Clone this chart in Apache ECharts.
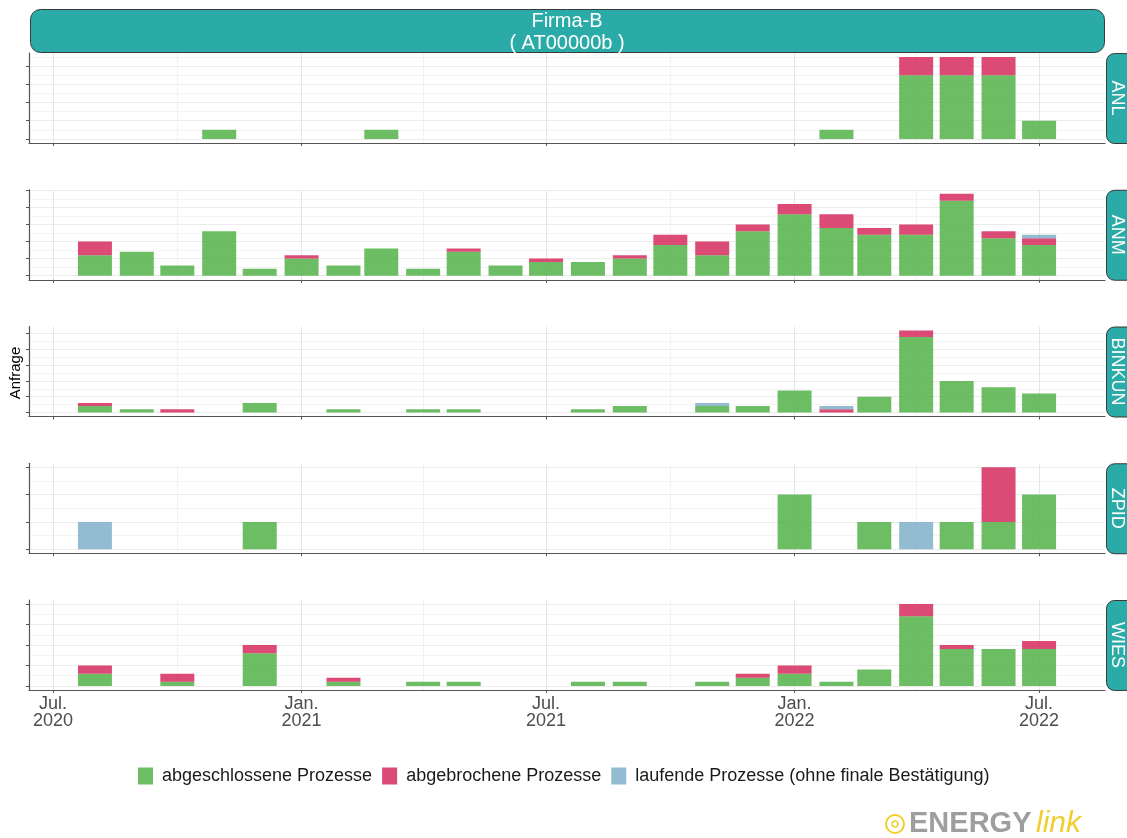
<!doctype html>
<html>
<head>
<meta charset="utf-8">
<title>Firma-B</title>
<script src="https://cdn.jsdelivr.net/npm/echarts@6/dist/echarts.min.js"></script>
</head>
<body style="margin:0;background:#fff">
<div id="chart" style="width:1127px;height:838px;"></div>
<script>
// Monate (Balken jeweils am Monatsersten)
var months = ['2020-08-01', '2020-09-01', '2020-10-01', '2020-11-01', '2020-12-01',
    '2021-01-01', '2021-02-01', '2021-03-01', '2021-04-01', '2021-05-01', '2021-06-01',
    '2021-07-01', '2021-08-01', '2021-09-01', '2021-10-01', '2021-11-01', '2021-12-01',
    '2022-01-01', '2022-02-01', '2022-03-01', '2022-04-01', '2022-05-01', '2022-06-01',
    '2022-07-01'];
var panels = ['ANL', 'ANM', 'BINKUN', 'ZPID', 'WIES'];
var seriesNames = ['abgeschlossene Prozesse', 'abgebrochene Prozesse', 'laufende Prozesse (ohne finale Bestätigung)'];
var tickDates = ['2020-07-01', '2021-01-01', '2021-07-01', '2022-01-01', '2022-07-01'];
var tickLabels = ['Jul.\n2020', 'Jan.\n2021', 'Jul.\n2021', 'Jan.\n2022', 'Jul.\n2022'];
var minorDates = ['2020-10-01', '2021-04-01', '2021-10-01', '2022-04-01'];
var yStep = [2, 5, 5, 1, 5];

// Werte je Panel: abgeschlossen / abgebrochen / laufend
var anlDone = [0, 0, 0, 1, 0, 0, 0, 1, 0, 0, 0, 0, 0, 0, 0, 0, 0, 0, 1, 0, 7, 7, 7, 2];
var anlAbort = [0, 0, 0, 0, 0, 0, 0, 0, 0, 0, 0, 0, 0, 0, 0, 0, 0, 0, 0, 0, 2, 2, 2, 0];
var anlRun = [0, 0, 0, 0, 0, 0, 0, 0, 0, 0, 0, 0, 0, 0, 0, 0, 0, 0, 0, 0, 0, 0, 0, 0];

var anmDone = [6, 7, 3, 13, 2, 5, 3, 8, 2, 7, 3, 4, 4, 5, 9, 6, 13, 18, 14, 12, 12, 22, 11, 9];
var anmAbort = [4, 0, 0, 0, 0, 1, 0, 0, 0, 1, 0, 1, 0, 1, 3, 4, 2, 3, 4, 2, 3, 2, 2, 2];
var anmRun = [0, 0, 0, 0, 0, 0, 0, 0, 0, 0, 0, 0, 0, 0, 0, 0, 0, 0, 0, 0, 0, 0, 0, 1];

var binDone = [2, 1, 0, 0, 3, 0, 1, 0, 1, 1, 0, 0, 1, 2, 0, 2, 2, 7, 0, 5, 24, 10, 8, 6];
var binAbort = [1, 0, 1, 0, 0, 0, 0, 0, 0, 0, 0, 0, 0, 0, 0, 0, 0, 0, 1, 0, 2, 0, 0, 0];
var binRun = [0, 0, 0, 0, 0, 0, 0, 0, 0, 0, 0, 0, 0, 0, 0, 1, 0, 0, 1, 0, 0, 0, 0, 0];

var zpidDone = [0, 0, 0, 0, 1, 0, 0, 0, 0, 0, 0, 0, 0, 0, 0, 0, 0, 2, 0, 1, 0, 1, 1, 2];
var zpidAbort = [0, 0, 0, 0, 0, 0, 0, 0, 0, 0, 0, 0, 0, 0, 0, 0, 0, 0, 0, 0, 0, 0, 2, 0];
var zpidRun = [1, 0, 0, 0, 0, 0, 0, 0, 0, 0, 0, 0, 0, 0, 0, 0, 0, 0, 0, 0, 1, 0, 0, 0];

var wiesDone = [3, 0, 1, 0, 8, 0, 1, 0, 1, 1, 0, 0, 1, 1, 0, 1, 2, 3, 1, 4, 17, 9, 9, 9];
var wiesAbort = [2, 0, 2, 0, 2, 0, 1, 0, 0, 0, 0, 0, 0, 0, 0, 0, 1, 2, 0, 0, 3, 1, 0, 2];
var wiesRun = [0, 0, 0, 0, 0, 0, 0, 0, 0, 0, 0, 0, 0, 0, 0, 0, 0, 0, 0, 0, 0, 0, 0, 0];

var panelData = [
    [anlDone, anlAbort, anlRun],
    [anmDone, anmAbort, anmRun],
    [binDone, binAbort, binRun],
    [zpidDone, zpidAbort, zpidRun],
    [wiesDone, wiesAbort, wiesRun]
];
var colors = ['rgba(82,178,73,0.85)', 'rgba(214,42,94,0.85)', 'rgba(128,176,203,0.85)'];

var FONT = '"Liberation Sans", Arial, sans-serif';
var DAY = 86400000;
function ts(s) {
    var p = s.split('-');
    return Date.UTC(+p[0], +p[1] - 1, +p[2]);
}

// x-Bereich wie ggplot: Balkenbreite 0.9*28 Tage, 5% Rand
var first = ts(months[0]) - 12.6 * DAY;
var last = ts(months[months.length - 1]) + 12.6 * DAY;
var pad = 0.05 * (last - first);
var xMin = first - pad, xMax = last + pad;

var tickTs = tickDates.map(ts);
var minorTs = minorDates.map(ts);

var grids = [], xAxes = [], yAxes = [], series = [], graphics = [];
var panelTop = 53, panelH = 90, panelGap = 136.75;

function panelMax(i) {
    var M = 0;
    for (var k = 0; k < months.length; k++) {
        var s = panelData[i][0][k] + panelData[i][1][k] + panelData[i][2][k];
        if (s > M) M = s;
    }
    return M;
}

panels.forEach(function (name, i) {
    var top = panelTop + i * panelGap;
    grids.push({ left: 29, right: 22, top: top, height: panelH });

    var M = panelMax(i);
    var yMin = -0.05 * M, yMax = 1.05 * M;
    var major = [];
    for (var v = 0; v <= yMax; v += yStep[i]) major.push(v);

    var isLast = i === panels.length - 1;
    xAxes.push({
        type: 'value', gridIndex: i, min: xMin, max: xMax,
        axisLine: { show: true, onZero: false, lineStyle: { color: '#555', width: 1.2 } },
        axisTick: { show: true, length: 3, customValues: tickTs, lineStyle: { color: '#555' } },
        axisLabel: {
            show: isLast, customValues: tickTs, margin: 6, fontSize: 18, lineHeight: 17,
            color: '#4D4D4D', fontFamily: FONT, hideOverlap: false,
            formatter: function (val) {
                for (var j = 0; j < tickTs.length; j++) {
                    if (Math.abs(val - tickTs[j]) < DAY) return tickLabels[j];
                }
                return '';
            }
        },
        splitLine: { show: true, lineStyle: { color: '#E6E6E6', width: 1 } }
    });
    yAxes.push({
        type: 'value', gridIndex: i, min: yMin, max: yMax,
        axisLine: { show: true, onZero: false, lineStyle: { color: '#555', width: 1.2 } },
        axisTick: { show: true, length: 3, customValues: major, lineStyle: { color: '#555' } },
        axisLabel: { show: false },
        splitLine: { show: true, lineStyle: { color: '#EBEBEB', width: 1 } }
    });

    // Anzahl zuerst, damit der Stapel auf y wirkt
    for (var sIdx = 0; sIdx < 3; sIdx++) {
        var vals = panelData[i][sIdx];
        var data = months.map(function (mo, m) { return [vals[m], ts(mo)]; });
        series.push({
            name: seriesNames[sIdx], type: 'bar', stack: 'p' + i,
            xAxisIndex: i, yAxisIndex: i, barWidth: 34,
            encode: { x: 1, y: 0 },
            itemStyle: { color: colors[sIdx] },
            data: data
        });
    }

    // Panel-Streifen rechts
    graphics.push({
        type: 'rect', left: 1106, top: top, z: 10,
        shape: { width: 40, height: panelH, r: 8 },
        style: { fill: '#2AABA8', stroke: '#3a3a3a', lineWidth: 1 }
    });
    graphics.push({
        type: 'text', x: 1117, y: top + panelH / 2, rotation: -Math.PI / 2, z: 11,
        style: { text: name, fill: '#fff', font: '18px ' + FONT, align: 'center', verticalAlign: 'middle' }
    });
});

// zweite Achsen nur für die feinen Hilfslinien
panels.forEach(function (name, i) {
    var M = panelMax(i);
    var yMax = 1.05 * M;
    var minor = [];
    for (var v = yStep[i] / 2; v <= yMax; v += yStep[i]) minor.push(v);
    xAxes.push({
        type: 'value', gridIndex: i, min: xMin, max: xMax, position: 'bottom',
        axisLine: { show: false, onZero: false }, axisTick: { show: false, customValues: minorTs },
        axisLabel: { show: false },
        splitLine: { show: true, lineStyle: { color: '#F2F2F2', width: 1 } }
    });
    yAxes.push({
        type: 'value', gridIndex: i, min: -0.05 * M, max: yMax, position: 'left',
        axisLine: { show: false, onZero: false }, axisTick: { show: false, customValues: minor },
        axisLabel: { show: false },
        splitLine: { show: true, lineStyle: { color: '#F4F4F4', width: 1 } }
    });
});

// Kopfstreifen
graphics.push({
    type: 'rect', left: 30, top: 9, z: 10,
    shape: { width: 1074, height: 43, r: 10 },
    style: { fill: '#2AABA8', stroke: '#3a3a3a', lineWidth: 1 }
});
graphics.push({
    type: 'text', x: 567, y: 32, z: 11,
    style: { text: 'Firma-B\n( AT00000b )', fill: '#fff', font: '20px ' + FONT, lineHeight: 22, align: 'center', verticalAlign: 'middle' }
});
// y-Titel
graphics.push({
    type: 'text', x: 16, y: 373, rotation: Math.PI / 2, z: 11,
    style: { text: 'Anfrage', fill: '#000', font: '15px ' + FONT, align: 'center', verticalAlign: 'middle' }
});
// Logo
graphics.push({
    type: 'circle', shape: { cx: 895, cy: 824, r: 9 }, z: 11,
    style: { fill: 'none', stroke: '#F2CD2E', lineWidth: 2 }
});
graphics.push({
    type: 'circle', shape: { cx: 895, cy: 824, r: 3 }, z: 11,
    style: { fill: 'none', stroke: '#F2CD2E', lineWidth: 1.5 }
});
graphics.push({
    type: 'text', x: 909, y: 824, z: 11,
    style: { text: 'ENERGY', fill: '#9E9E9E', font: 'bold 29px ' + FONT, verticalAlign: 'middle' }
});
graphics.push({
    type: 'text', x: 1036, y: 824, z: 11,
    style: { text: 'link', fill: '#F2CD2E', font: 'italic 30px ' + FONT, verticalAlign: 'middle' }
});

var myChart = echarts.init(document.getElementById('chart'), null, { renderer: 'canvas' });
myChart.setOption({
    animation: false,
    backgroundColor: '#fff',
    textStyle: { fontFamily: FONT },
    grid: grids,
    xAxis: xAxes,
    yAxis: yAxes,
    legend: {
        data: seriesNames, left: 138, top: 767, padding: 0,
        icon: 'rect', itemWidth: 15, itemHeight: 17, itemGap: 10,
        textStyle: { fontSize: 18, color: '#1A1A1A', fontFamily: FONT, padding: [0, 0, 0, 4] }
    },
    series: series,
    graphic: graphics
});
</script>
</body>
</html>
